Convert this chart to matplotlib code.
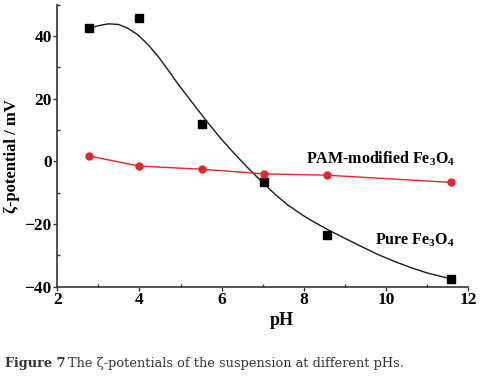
import matplotlib
matplotlib.use("Agg")
import matplotlib.pyplot as plt
from matplotlib.ticker import MultipleLocator

plt.rcParams['font.family'] = ['Liberation Serif', 'DejaVu Serif']
plt.rcParams['mathtext.default'] = 'regular'

# Data
ph = [2.78, 3.99, 5.52, 7.04, 8.56, 11.58]
zeta_pure = [42.7, 45.8, 12.0, -6.7, -23.5, -37.6]
zeta_pam = [1.7, -1.5, -2.5, -4.0, -4.4, -6.7]

# Fitted curve of pure Fe3O4
fit_ph = [2.80, 3.00, 3.24, 3.49, 3.73, 3.97, 4.22, 4.46, 4.70, 4.95, 5.19,
          5.43, 5.68, 6.00, 6.33, 6.65, 6.98, 7.30, 7.62, 7.99, 8.19, 8.60,
          9.01, 9.41, 9.82, 10.22, 10.63, 11.03, 11.56]
fit_zeta = [42.6, 43.3, 43.9, 43.7, 42.4, 40.3, 37.1, 33.4, 29.1, 24.5, 20.4,
            16.3, 12.1, 7.0, 2.2, -2.2, -6.5, -10.5, -14.0, -17.3, -18.9, -21.9,
            -24.6, -27.2, -29.8, -32.0, -34.0, -35.7, -37.4]

xticks = [2, 4, 6, 8, 10, 12]
yticks = [-40, -20, 0, 20, 40]

fig = plt.figure(figsize=(4.86, 3.78), dpi=100)
ax = fig.add_axes([0.118, 0.2415, 0.845, 0.746])

red = '#e8242e'
ax.plot(fit_ph, fit_zeta, color='#1a1a1a', lw=1.0, zorder=2)
ax.plot(ph, zeta_pure, ls='none', marker='s', ms=5.3, color='black', zorder=3)
ax.plot(ph, zeta_pam, color=red, lw=1.0, marker='o', ms=5, zorder=3)

ax.set_xlim(2, 12)
ax.set_ylim(-40, 50)
ax.set_xticks(xticks)
ax.set_yticks(yticks)
ax.xaxis.set_minor_locator(MultipleLocator(1))
ax.yaxis.set_minor_locator(MultipleLocator(10))
for s in ['top', 'right']:
    ax.spines[s].set_visible(False)
for s in ['left', 'bottom']:
    ax.spines[s].set_linewidth(1.2)
    ax.spines[s].set_color('#333333')
ax.tick_params(which='major', direction='out', length=3, width=1, color='#333333',
               labelsize=12.5, pad=1)
ax.tick_params(which='minor', direction='in', length=2.5, width=1, color='#333333')
for lab in ax.get_xticklabels() + ax.get_yticklabels():
    lab.set_fontweight('bold')

ax.set_xlabel('pH', fontsize=13, fontweight='bold')
ax.set_ylabel('ζ-potential / mV', fontsize=12, fontweight='bold')
ax.xaxis.set_label_coords(0.547, -0.09)
ax.yaxis.set_label_coords(-0.091, 0.4635)

ax.text(8.06, -0.6, 'PAM-modified Fe$_3$O$_4$', fontsize=11.5, fontweight='bold',
        ha='left', va='baseline')
ax.text(9.74, -26.6, 'Pure Fe$_3$O$_4$', fontsize=11.5, fontweight='bold',
        ha='left', va='baseline')

cap_font = ['DejaVu Serif']
t1 = fig.text(5 / 486, 1 - 366.5 / 378, 'Figure 7', fontsize=9.3, fontweight='bold',
              family=cap_font, color='#333333', ha='left', va='baseline')
fig.canvas.draw()
bb = t1.get_window_extent()
fig.text(bb.x1 / 486 + 0.004, 1 - 366.5 / 378,
         'The ζ-potentials of the suspension at different pHs.', fontsize=9.3,
         family=cap_font, color='#333333', ha='left', va='baseline')

fig.savefig('out.png', dpi=100)
